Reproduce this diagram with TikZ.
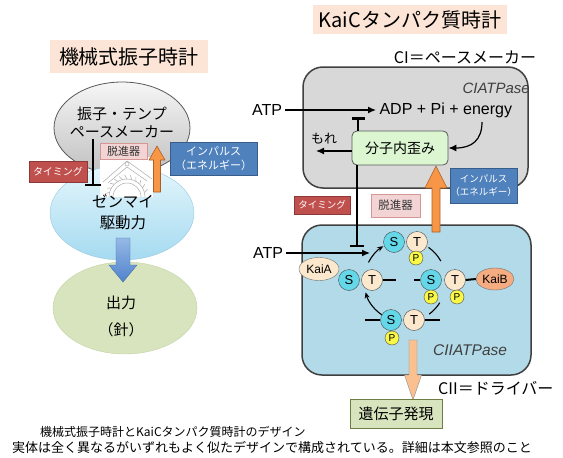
\documentclass[tikz,border=0pt]{standalone}
\usepackage{fontspec}
\setmainfont{Liberation Sans}
\newfontfamily\jp{Noto Sans CJK JP}
\usetikzlibrary{shapes.geometric,arrows.meta,positioning}

\newcommand{\fsz}[2]{\fontsize{#1}{#2}\selectfont}

\definecolor{peach}{RGB}{252,229,214}
\definecolor{timingred}{RGB}{192,80,77}
\definecolor{timingline}{RGB}{140,56,54}
\definecolor{escpink}{RGB}{242,212,212}
\definecolor{escline}{RGB}{215,150,150}
\definecolor{impblue}{RGB}{79,129,189}
\definecolor{impline}{RGB}{56,93,138}
\definecolor{pushorange}{RGB}{247,150,70}
\definecolor{pushline}{RGB}{170,95,40}
\definecolor{paceTop}{RGB}{246,246,246}
\definecolor{paceBot}{RGB}{192,192,192}
\definecolor{springTop}{RGB}{228,246,252}
\definecolor{springBot}{RGB}{165,218,240}
\definecolor{springline}{RGB}{150,200,225}
\definecolor{handgreen}{RGB}{215,228,189}
\definecolor{handline}{RGB}{195,210,165}
\definecolor{driveTop}{RGB}{150,185,230}
\definecolor{driveBot}{RGB}{80,130,205}
\definecolor{driveline}{RGB}{70,110,170}
\definecolor{cigray}{RGB}{216,216,216}
\definecolor{ciiblue}{RGB}{178,218,232}
\definecolor{strainfill}{RGB}{220,246,210}
\definecolor{sfill}{RGB}{100,215,232}
\definecolor{tfill}{RGB}{252,232,205}
\definecolor{pfill}{RGB}{250,248,70}
\definecolor{kaibfill}{RGB}{244,172,128}
\definecolor{outarrow}{RGB}{250,192,144}
\definecolor{genefill}{RGB}{215,228,189}
\definecolor{geneline}{RGB}{110,125,70}

\begin{document}
\begin{tikzpicture}[x=1pt, y=1pt,
    heading/.style={fill=peach, inner sep=0pt, font=\jp\fsz{20}{24}},
    jtext/.style={font=\jp\fsz{15}{18}, align=center, inner sep=1pt},
    timingbox/.style={draw=timingline, fill=timingred, text=white, inner sep=0pt, font=\jp\fsz{10}{12}},
    escbox/.style={draw=escline, fill=escpink, text=black!80, inner sep=0pt, font=\jp\fsz{11}{13}},
    impbox/.style={draw=impline, fill=impblue, text=white, inner sep=0pt, align=center, font=\jp\fsz{11}{14}},
    inhibit/.style={line width=2.5pt, -{Bar[width=#1]}},
    inhibit/.default=14pt,
    push/.style={draw=pushline, fill=pushorange, line width=0.6pt, line join=round},
    reaction/.style={line width=1.3pt, -{Latex[length=8pt,width=7pt]}},
    cycline/.style={line width=1.1pt},
    cycarrow/.style={line width=1.1pt, -{Stealth[length=6pt,width=5pt]}},
    stub/.style={line width=2pt},
    sdom/.style={circle, draw=black!70, fill=sfill, minimum size=21pt, inner sep=0pt, font=\fsz{13}{15}},
    tdom/.style={circle, draw=black!70, fill=tfill, minimum size=21pt, inner sep=0pt, font=\fsz{13}{15}},
    phos/.style={circle, draw=black!70, fill=pfill, minimum size=14pt, inner sep=0pt, font=\fsz{10}{12}},
    kai/.style={ellipse, draw=black!55, inner sep=0pt, font=\fsz{12}{14}},
    ctrlbox/.style={draw=black!75, line width=1.5pt, rounded corners=20pt},
    caption/.style={anchor=west, inner sep=0pt, font=\jp\fsz{12}{14}}
]
\fill[white] (0,0) rectangle (563,-458);
\useasboundingbox (0,0) rectangle (563,-458);

% ---------------- mechanical pendulum clock ----------------
\node[heading, minimum width=158pt, minimum height=33pt] (mtitle) at (129,-56.5) {機械式振子時計};

\node[ellipse, draw=black!65, line width=0.8pt, top color=paceTop, bottom color=paceBot,
      minimum width=136pt, minimum height=92pt] (pace) at (122,-128) {};
\node[ellipse, draw=springline, top color=springTop, bottom color=springBot,
      minimum width=144pt, minimum height=94pt] (spring) at (122,-213) {};

% escapement sketch
\begin{scope}
  \fill[white] (100,-157) rectangle (153,-197);
  \clip (100,-157) rectangle (153,-197);
  \begin{scope}[draw=gray!65, line width=0.5pt]
    \draw (103,-182) -- (127,-161) -- (152,-179);
    \draw (108,-183) -- (127,-167) -- (147,-181);
    \draw (127,-164) circle (2);
    \draw (109,-197) arc[start angle=180, end angle=0, radius=18];
    \draw (113,-197) arc[start angle=180, end angle=0, radius=14];
    \foreach \a in {15,30,...,165}
      \draw ([shift={(\a:18)}]127,-197) -- ([shift={(\a+6:22)}]127,-197);
  \end{scope}
\end{scope}

\node[ellipse, draw=handline, fill=handgreen, minimum width=144pt, minimum height=92pt] (hands) at (125,-308) {};
\draw[draw=driveline, top color=driveTop, bottom color=driveBot]
  (116,-238) -- (130,-238) -- (130,-265) -- (137,-265) -- (123,-282) -- (109,-265) -- (116,-265) -- cycle;

\node[jtext] (pacetxt) at (122,-122) {振子・テンプ\\ペースメーカー};
\node[jtext, font=\jp\fsz{15.5}{21}] (springtxt) at (123,-212) {ゼンマイ\\駆動力};
\node[jtext] (handtxt) at (121,-316) {出力\\[9pt]（針）};

\node[escbox, minimum width=47pt, minimum height=16pt] (escL) at (123.5,-151) {脱進器};
\node[timingbox, minimum width=58pt, minimum height=21pt] (timL) at (58,-171.5) {タイミング};
\node[impbox, minimum width=87pt, minimum height=33pt] (impL) at (213.5,-158.5) {インパルス\\（エネルギー）};

\coordinate (stopL) at (93,-186);
\draw[inhibit=16pt] (pacetxt.south -| stopL) -- (stopL);
\filldraw[push] (153.5,-192) -- (160.5,-192) -- (160.5,-160) -- (165,-160) -- (157,-146) -- (149,-160) -- (153.5,-160) -- cycle;

% ---------------- KaiC protein clock ----------------
\node[heading, minimum width=194pt, minimum height=29pt] (ktitle) at (410,-19.5) {KaiCタンパク質時計};
\node[font=\jp\fsz{16}{19}] (cilabel) at (465,-57) {CI＝ペースメーカー};

\node[ctrlbox, fill=cigray, minimum width=225pt, minimum height=121pt] (ci) at (415.5,-127.5) {};
\node[ctrlbox, fill=ciiblue, minimum width=229pt, minimum height=150pt] (cii) at (416.5,-300) {};

\node[font=\itshape\fsz{15}{18}, text=black!75, anchor=east, inner sep=0pt] (ciname) at (530,-88) {CIATPase};
\node[font=\itshape\fsz{15.5}{18}, text=black!75, anchor=west, inner sep=0pt] (ciiname) at (433,-350) {CIIATPase};
\node[font=\jp\fsz{16}{19}, anchor=west, inner sep=0pt] (ciilabel) at (438,-388) {CII＝ドライバー};

% CI reaction
\node[font=\fsz{16}{19}] (atpA) at (267,-110) {ATP};
\node[font=\fsz{16}{19}, anchor=west] (adp) at (376,-110) {ADP + Pi + energy};
\draw[reaction] (atpA) -- (adp);

\node[draw=black!65, line width=0.8pt, fill=strainfill, rounded corners=5pt,
      minimum width=96pt, minimum height=34pt, font=\jp\fsz{14}{17}] (strain) at (400,-148) {分子内歪み};
\coordinate (stopA) at (358,-117);
\draw[inhibit=13pt] (strain.north -| stopA) -- (stopA);
\coordinate (en) at (482,-122);
\draw[reaction, line width=1.2pt] (en) .. controls (482,-140) and (472,-148) .. (strain.east);
\node[font=\jp\fsz{13}{15}] (leak) at (324,-139) {もれ};
\coordinate (leakend) at (316,-151);
\draw[reaction] (strain.west |- leakend) -- (leakend);

\coordinate (stopB) at (357,-247);
\draw[inhibit] (strain.south -| stopB) -- (stopB);
\filldraw[push] (432,-232) -- (440,-232) -- (440,-188) -- (447,-188) -- (436,-166) -- (425,-188) -- (432,-188) -- cycle;

\node[timingbox, minimum width=56pt, minimum height=18pt, font=\jp\fsz{9.5}{11}] (timR) at (322,-205) {タイミング};
\node[escbox, minimum width=49pt, minimum height=23pt, font=\jp\fsz{11.5}{13}] (escR) at (395.5,-205.5) {脱進器};
\node[impbox, minimum width=67pt, minimum height=35pt, font=\jp\fsz{9.5}{13}] (impR) at (483.5,-185.5) {インパルス\\（エネルギー）};

% phosphorylation cycle
\node[font=\fsz{16}{19}] (atpB) at (268,-253) {ATP};
\coordinate (atpin) at (370,-253);
\draw[reaction] (atpB) -- (atpin);

\coordinate (cyc) at (405,-281);
\draw[cycarrow] ([shift={(153:41)}]cyc) arc[start angle=153, end angle=122, radius=41];
\draw[cycline]  ([shift={(55:41)}]cyc) arc[start angle=55, end angle=29, radius=41];
\draw[cycline]  ([shift={(-32:41)}]cyc) arc[start angle=-32, end angle=-54, radius=41];
\draw[cycarrow] ([shift={(239:41)}]cyc) arc[start angle=239, end angle=196, radius=41];

\node[kai, fill=tfill, minimum width=40pt, minimum height=23pt] (kaia) at (319,-269) {KaiA};
\node[kai, fill=kaibfill, minimum width=38pt, minimum height=22pt] (kaib) at (495,-279) {KaiB};

\node[sdom] (sU) at (349,-280) {S};
\node[tdom] (tU) at (372,-280) {T};
\node[sdom] (sT) at (394,-242) {S};
\node[tdom] (tT) at (417,-242) {T};
\node[phos] (pT) at (416,-258) {P};
\node[sdom] (sST) at (431,-280) {S};
\node[tdom] (tST) at (455,-280) {T};
\node[phos] (pST1) at (431,-297) {P};
\node[phos] (pST2) at (457,-297) {P};
\node[sdom] (sS) at (391,-320) {S};
\node[tdom] (tS) at (414,-320) {T};
\node[phos] (pS) at (392,-338) {P};

\coordinate (endU) at (396,-280);
\coordinate (endST) at (414,-280);
\coordinate (endSa) at (365,-320);
\coordinate (endSb) at (440,-320);
\draw[stub] (tU.east) -- (endU);
\draw[stub] (endST) -- (sST.west);
\draw[stub] (tST.east) -- (kaib.west);
\draw[stub] (endSa) -- (sS.west);
\draw[stub] (tS.east) -- (endSb);

% output
\filldraw[draw=black!45, fill=outarrow] (409,-340) -- (417,-340) -- (417,-375) -- (421.5,-375) -- (413,-400) -- (404.5,-375) -- (409,-375) -- cycle;
\node[draw=geneline, fill=genefill, minimum width=92pt, minimum height=29pt, font=\jp\fsz{15}{18}] (gene) at (396,-414) {遺伝子発現};

% caption
\node[caption] (cap1) at (40,-432) {機械式振子時計とKaiCタンパク質時計のデザイン};
\node[caption, font=\jp\fsz{13}{15}] (cap2) at (12,-448) {実体は全く異なるがいずれもよく似たデザインで構成されている。詳細は本文参照のこと};
\end{tikzpicture}
\end{document}
